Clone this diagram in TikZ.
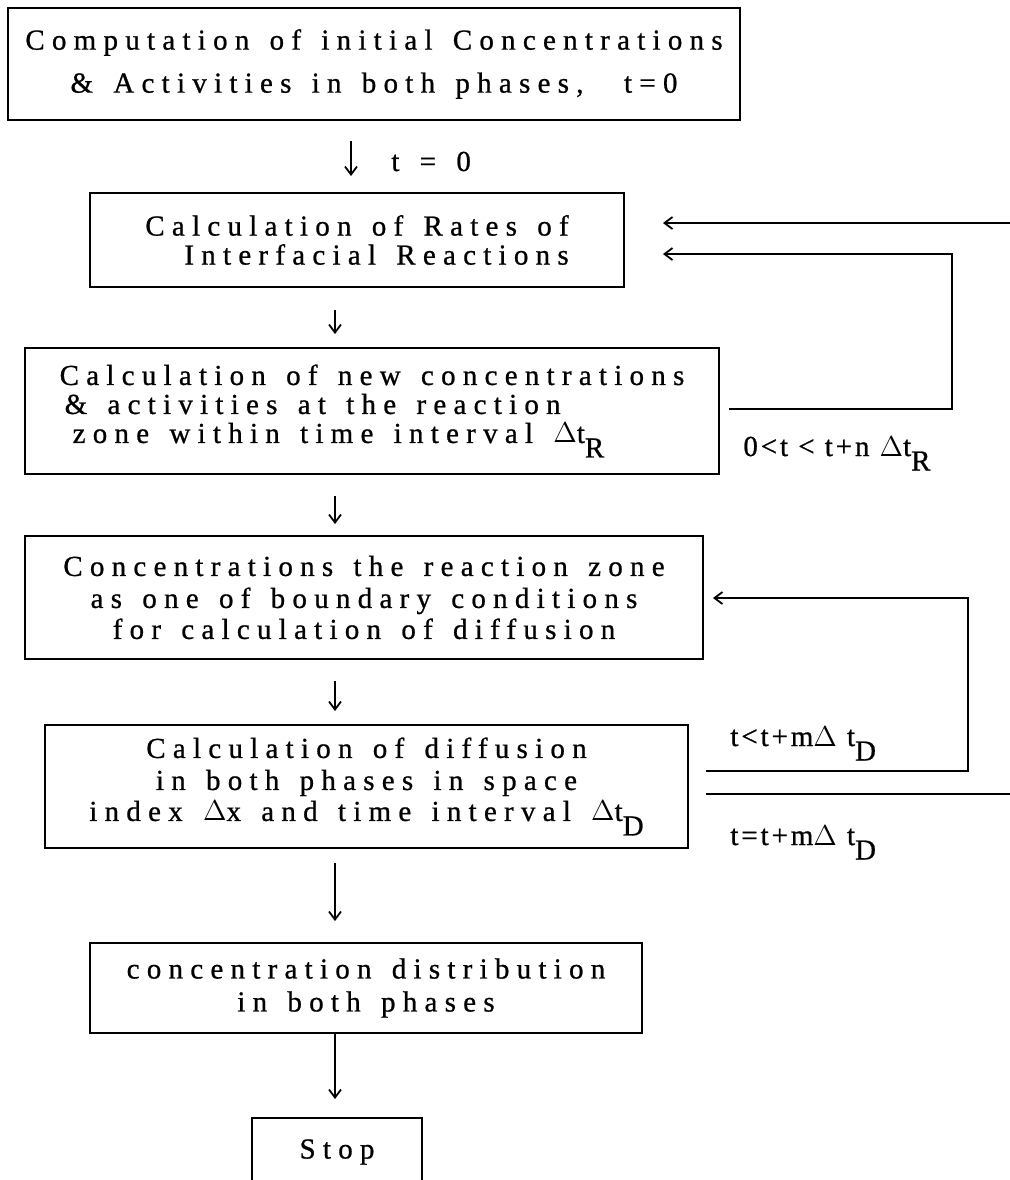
\documentclass[tikz,border=0pt]{standalone}
\usepackage{fontspec}
\setmainfont{Liberation Serif}
\newfontfamily\flowfont{Liberation Serif}[LetterSpace=25, WordSpace=1.4, FakeBold=0.8]
\newfontfamily\condfont{Liberation Serif}[LetterSpace=10, FakeBold=0.8]
\usetikzlibrary{arrows.meta}
\newcommand{\lowsub}[1]{\raisebox{-0.5em}{#1}}

\tikzset{
  stepbox/.style={draw, line width=1pt, inner sep=0pt,
    font=\flowfont\fontsize{14.5}{14.5}\selectfont},
  cond/.style={inner sep=0pt, font=\condfont\fontsize{14.5}{14.5}\selectfont},
  flow/.style={->, line width=0.9pt},
}

\begin{document}
\begin{tikzpicture}[x=0.5pt, y=-0.5pt, >={Straight Barb[length=4pt,width=6pt]}]
    \useasboundingbox (0,0) rectangle (1010,1180);
    \clip (0,0) rectangle (1010,1180);

    \node[stepbox, minimum width=366pt, minimum height=56pt, align=center] (init) at (374,64)
        {Computation of initial Concentrations\\[7pt] \& Activities in both phases,\ \ t=0};
    \node[stepbox, minimum width=267pt, minimum height=47pt, align=right] (rates) at (357,240)
        {Calculation of Rates of\\ Interfacial Reactions};
    \node[stepbox, minimum width=347pt, minimum height=63pt, align=left] (newconc) at (372,411)
        {Calculation of new concentrations\\ \hspace*{2.5pt}\& activities at the reaction\\
         \hspace*{6.5pt}zone within time interval \(\Delta\)t\lowsub{R}};
    \node[stepbox, minimum width=339pt, minimum height=61.5pt, align=center] (bound) at (364,597.5)
        {Concentrations the reaction zone\\[1.5pt] as one of boundary conditions\\[1pt] for calculation of diffusion};
    \node[stepbox, minimum width=321.5pt, minimum height=61.5pt, align=center] (diff) at (366.5,786.5)
        {Calculation of diffusion\\[1.5pt] in both phases in space\\[1pt] index \(\Delta\)x and time interval \(\Delta\)t\lowsub{D}};
    \node[stepbox, minimum width=276pt, minimum height=45pt, align=center] (dist) at (366,988)
        {concentration distribution\\[2pt] in both phases};
    \node[stepbox, minimum width=85pt, minimum height=34pt] (stop) at (337,1152) {Stop};

    \coordinate (ax0) at (351,0);
    \coordinate (ax) at (335,0);
    \draw[flow, shorten <=10pt, shorten >=8pt] (init.south -| ax0) -- (rates.north -| ax0);
    \node[cond, anchor=base west] (tzero) at (391,171) {t \ = \ 0};
    \foreach \a/\b/\s/\e in {rates/newconc/11pt/6.5pt, newconc/bound/10.5pt/5.5pt,
        bound/diff/10.5pt/6.5pt, diff/dist/7pt/10.5pt, dist/stop/0pt/9pt}
        \draw[flow, shorten <=\s, shorten >=\e] (\a.south -| ax) -- (\b.north -| ax);

    \coordinate (inR) at (1010,223);
    \draw[flow, shorten >=19pt] (inR) -- (rates.east |- inR);

    \coordinate (rR) at (952,409);
    \coordinate (rRt) at (952,254);
    \draw[flow, shorten <=4.5pt, shorten >=19pt] (newconc.east |- rR) -- (rR) -- (rRt) -- (rates.east |- rRt);
    \node[cond, anchor=base west] (nlab) at (743,456) {0<t < t+n \(\Delta\)t\lowsub{R}};

    \coordinate (dR) at (968,771);
    \coordinate (dRt) at (968,598);
    \draw[flow, shorten <=8.5pt, shorten >=4.5pt] (diff.east |- dR) -- (dR) -- (dRt) -- (bound.east |- dRt);
    \node[cond, anchor=base west] (mlab) at (730,746) {t<t+m\(\Delta\) t\lowsub{D}};

    \coordinate (outR) at (1010,794);
    \draw[line width=0.9pt, shorten <=8.5pt] (diff.east |- outR) -- (outR);
    \node[cond, anchor=base west] (elab) at (730,845) {t=t+m\(\Delta\) t\lowsub{D}};
\end{tikzpicture}
\end{document}
